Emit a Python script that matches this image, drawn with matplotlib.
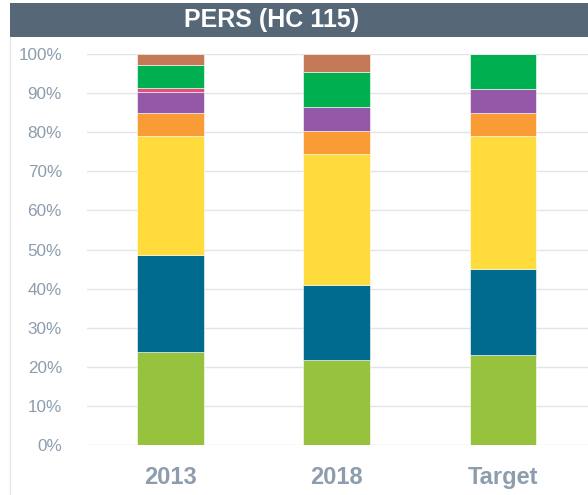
"""Stacked 100% bar chart: PERS (HC 115) composition for 2013, 2018 and target."""
import matplotlib
matplotlib.use("Agg")
import matplotlib.pyplot as plt
import numpy as np
from matplotlib.patches import Rectangle
from matplotlib.lines import Line2D

plt.rcParams["font.family"] = ["Liberation Sans", "DejaVu Sans"]

categories = ["2013", "2018", "Target"]
# segment shares (%) from bottom to top
lime = [23.8, 21.7, 23.0]
blue = [24.8, 19.2, 22.0]
yellow = [30.5, 33.6, 34.0]
orange = [5.9, 5.8, 6.0]
purple = [5.4, 6.1, 6.0]
pink = [0.8, 0.0, 0.0]
green = [6.0, 8.9, 9.0]
brown = [2.8, 4.7, 0.0]

series = [lime, blue, yellow, orange, purple, pink, green, brown]
colors = ["#97C23D", "#006A8F", "#FFDC3B", "#F99C36", "#9558A8", "#E0507A", "#00B050", "#C47A56"]

fig = plt.figure(figsize=(5.88, 4.95), dpi=100)
ax = fig.add_axes([87 / 588, 50 / 495, 501 / 588, 391 / 495])

x = np.arange(len(categories))
bottom = np.zeros(len(categories))
for vals, col in zip(series, colors):
    v = np.array(vals) / 100
    ax.bar(x, v, 0.4, bottom=bottom, color=col, edgecolor="white", linewidth=0.4, zorder=3)
    bottom += v

ax.set_xlim(-0.5, 2.51)
ax.set_ylim(0, 1)
ax.set_yticks(np.arange(0, 1.01, 0.1))
ax.set_yticklabels([f"{int(round(t * 100))}%" for t in np.arange(0, 1.01, 0.1)])
ax.yaxis.grid(True, color="#E1E4E9", linewidth=1, zorder=0)
ax.tick_params(axis="y", length=0, pad=18, labelsize=12.3, labelcolor="#8D9DAE")
ax.set_xticks(x)
ax.set_xticklabels(categories, fontweight="bold")
ax.tick_params(axis="x", length=0, pad=15, labelsize=17, labelcolor="#8D9DAE")
for s in ax.spines.values():
    s.set_visible(False)

# title banner
fig.patches.append(Rectangle((10 / 588, 1 - 37 / 495), 1, 34 / 495, transform=fig.transFigure,
                             facecolor="#566878", edgecolor="none"))
fig.text(272 / 588, 1 - 20 / 495, "PERS (HC 115)", ha="center", va="center",
         color="white", fontsize=18, fontweight="bold")
fig.lines.append(Line2D([10 / 588, 10 / 588], [0, 1 - 37 / 495], transform=fig.transFigure,
                        color="#E3E6EA", linewidth=1))

fig.savefig("out.png", dpi=100)
